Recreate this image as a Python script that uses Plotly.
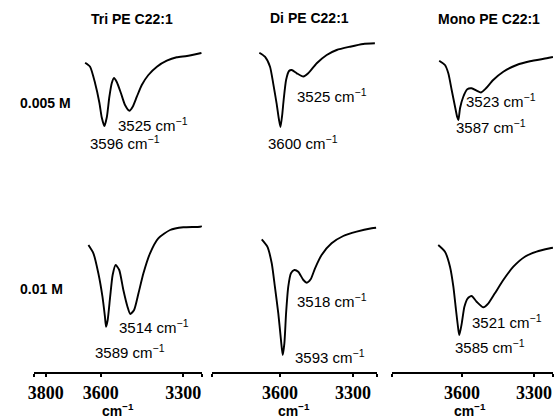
import plotly.graph_objects as go

W, H = 559, 418

# ---------------- data (wavenumber cm^-1, transmittance a.u.) ----------------
tri_005_wn = [3657, 3639, 3621, 3605, 3597, 3587, 3578, 3569, 3560, 3552, 3542, 3527, 3512,
              3496, 3484, 3469, 3451, 3427, 3396, 3360, 3324, 3287, 3239, 3234]
tri_005_t = [77.3, 73.3, 57, 37, 23, 14, 23, 43, 57, 62, 58, 47, 35,
             29.3, 33.3, 43.3, 55, 65, 73.3, 79.3, 82.7, 84, 86.7, 87]

tri_01_wn = [3645, 3627, 3609, 3594, 3585, 3581, 3575, 3566, 3557, 3546, 3533, 3518, 3503,
             3493, 3479, 3463, 3445, 3421, 3391, 3348, 3300, 3239, 3233]
tri_01_t = [129, 120.7, 100.7, 77.3, 57.3, 47.3, 54, 77.3, 99, 109, 104, 84, 67.3,
            60, 64, 80.7, 100.7, 120.7, 135.7, 144, 146.7, 147.3, 148]

di_005_wn = [3685, 3662, 3641, 3628, 3614, 3604, 3598, 3591, 3585, 3575, 3563, 3552, 3531,
             3504, 3484, 3449, 3408, 3367, 3312, 3258, 3210]
di_005_t = [87.3, 83.3, 73.3, 56.7, 36.7, 20, 13, 25, 40, 60, 69, 70, 66.7,
            63.5, 66.7, 76.7, 85, 90, 93.3, 96, 96.7]

di_01_wn = [3675, 3652, 3634, 3621, 3607, 3596, 3589, 3582, 3575, 3566, 3555, 3541, 3525,
            3504, 3490, 3474, 3456, 3429, 3388, 3340, 3285, 3223, 3205]
di_01_t = [134.7, 127.3, 110.7, 87.3, 60.7, 34, 19, 30.7, 60.7, 87.3, 100.7, 104, 102.3,
           94, 91.3, 94.7, 105.7, 119, 130.7, 138, 142.3, 145.7, 146.3]

mono_005_wn = [3695, 3671, 3657, 3643, 3629, 3620, 3615, 3608, 3595, 3578, 3560, 3539, 3521,
               3500, 3470, 3428, 3372, 3317, 3247, 3221]
mono_005_t = [79.3, 75, 66.7, 50, 33.3, 23, 20, 32, 43, 50.7, 51.7, 49.3, 47.5,
              51.7, 60, 68.3, 75, 78.7, 81.7, 83]

mono_01_wn = [3699, 3671, 3650, 3636, 3625, 3615, 3611, 3601, 3590, 3576, 3560, 3539, 3511,
              3490, 3463, 3428, 3386, 3338, 3289, 3233, 3221]
mono_01_t = [129, 122.3, 107.3, 87.3, 64, 44, 39, 50.7, 67.3, 75.7, 78, 72.3, 66.7,
             70.7, 80.7, 94, 107.3, 117.3, 122.3, 125.7, 126.3]

compounds = ["Tri PE C22:1", "Di PE C22:1", "Mono PE C22:1"]
concentrations = ["0.005 M", "0.01 M"]
peak_labels_005 = [["3525", "3596"], ["3525", "3600"], ["3523", "3587"]]
peak_labels_01 = [["3514", "3589"], ["3518", "3593"], ["3521", "3585"]]
tick_vals = [[3800, 3600, 3300], [3600, 3300], [3600, 3300]]
unit_label = "cm<sup>−1</sup>"

# ---------------- layout geometry (pixels) ----------------
col_px = [(34, 202), (212, 377), (392, 553)]
col_range = [(3843, 3232), (3879.5, 3201.3), (3891.7, 3220.8)]
row_px = [(40, 140), (214, 372)]
row_range = [(0, 100), (2, 160)]

# annotation positions (left x, center y) in pixels
pos_005 = [[(116, 124), (88, 142)], [(295, 96), (266, 143)], [(464, 100), (454, 126)]]
pos_01 = [[(117, 326), (93, 351)], [(295, 300), (293, 356)], [(470, 321), (453, 346)]]
title_pos = [(132, 19), (309, 18), (489, 19)]
row_label_pos = [(45, 103), (41, 289)]
unit_pos = [(118, 410), (294, 410), (470, 410)]

def px2x(p):
    return p / W

def px2y(p):
    return 1 - p / H

fig = go.Figure()
series = [[(tri_005_wn, tri_005_t), (tri_01_wn, tri_01_t)],
          [(di_005_wn, di_005_t), (di_01_wn, di_01_t)],
          [(mono_005_wn, mono_005_t), (mono_01_wn, mono_01_t)]]

sans = "Liberation Sans, Arial, sans-serif"
serif = "Liberation Serif, Times New Roman, serif"

annotations = []
for c in range(3):
    for r in range(2):
        idx = r * 3 + c + 1
        xa = "x" if idx == 1 else f"x{idx}"
        ya = "y" if idx == 1 else f"y{idx}"
        wn, t = series[c][r]
        fig.add_trace(go.Scatter(x=wn, y=t, mode="lines", xaxis=xa, yaxis=ya,
                                 line=dict(color="black", width=1.9, shape="spline", smoothing=0.6),
                                 showlegend=False, hoverinfo="skip"))
        xkey = "xaxis" if idx == 1 else f"xaxis{idx}"
        ykey = "yaxis" if idx == 1 else f"yaxis{idx}"
        x0, x1 = col_px[c]
        ytop, ybot = row_px[r]
        xcfg = dict(domain=[px2x(x0), px2x(x1)], range=list(col_range[c]), anchor=ya,
                    showgrid=False, zeroline=False, automargin=False)
        if r == 1:
            tv = [col_range[c][0]] + tick_vals[c] + [col_range[c][1]]
            tt = [""] + [f"<b>{v}</b>" for v in tick_vals[c]] + [""]
            xcfg.update(showline=True, linecolor="black", linewidth=2, ticks="outside",
                        ticklen=3, tickwidth=2, tickcolor="black", tickvals=tv, ticktext=tt,
                        tickangle=0,
                        tickfont=dict(family=serif, size=18, color="black"))
        else:
            xcfg.update(visible=False)
        fig.layout[xkey] = xcfg
        fig.layout[ykey] = dict(domain=[px2y(ybot), px2y(ytop)], range=list(row_range[r]),
                                anchor=xa, visible=False)
        labels = peak_labels_005[c] if r == 0 else peak_labels_01[c]
        poss = pos_005[c] if r == 0 else pos_01[c]
        for lab, (lx, ly) in zip(labels, poss):
            annotations.append(dict(x=px2x(lx), y=px2y(ly), xref="paper", yref="paper",
                                    xanchor="left", yanchor="middle", showarrow=False,
                                    text=f"{lab} {unit_label}",
                                    font=dict(family=sans, size=15, color="black")))

for (ux, uy) in unit_pos:
    annotations.append(dict(x=px2x(ux), y=px2y(uy), xref="paper", yref="paper",
                            xanchor="center", yanchor="middle", showarrow=False,
                            text=f"<b>{unit_label}</b>",
                            font=dict(family=sans, size=14, color="black")))

for name, (tx, ty) in zip(compounds, title_pos):
    annotations.append(dict(x=px2x(tx), y=px2y(ty), xref="paper", yref="paper",
                            xanchor="center", yanchor="middle", showarrow=False,
                            text=f"<b>{name}</b>", font=dict(family=sans, size=14, color="black")))

for name, (tx, ty) in zip(concentrations, row_label_pos):
    annotations.append(dict(x=px2x(tx), y=px2y(ty), xref="paper", yref="paper",
                            xanchor="center", yanchor="middle", showarrow=False,
                            text=f"<b>{name}</b>", font=dict(family=sans, size=14, color="black")))

fig.update_layout(width=W, height=H, margin=dict(l=0, r=0, t=0, b=0),
                  paper_bgcolor="white", plot_bgcolor="white",
                  annotations=annotations)

fig.write_html("out.html")
